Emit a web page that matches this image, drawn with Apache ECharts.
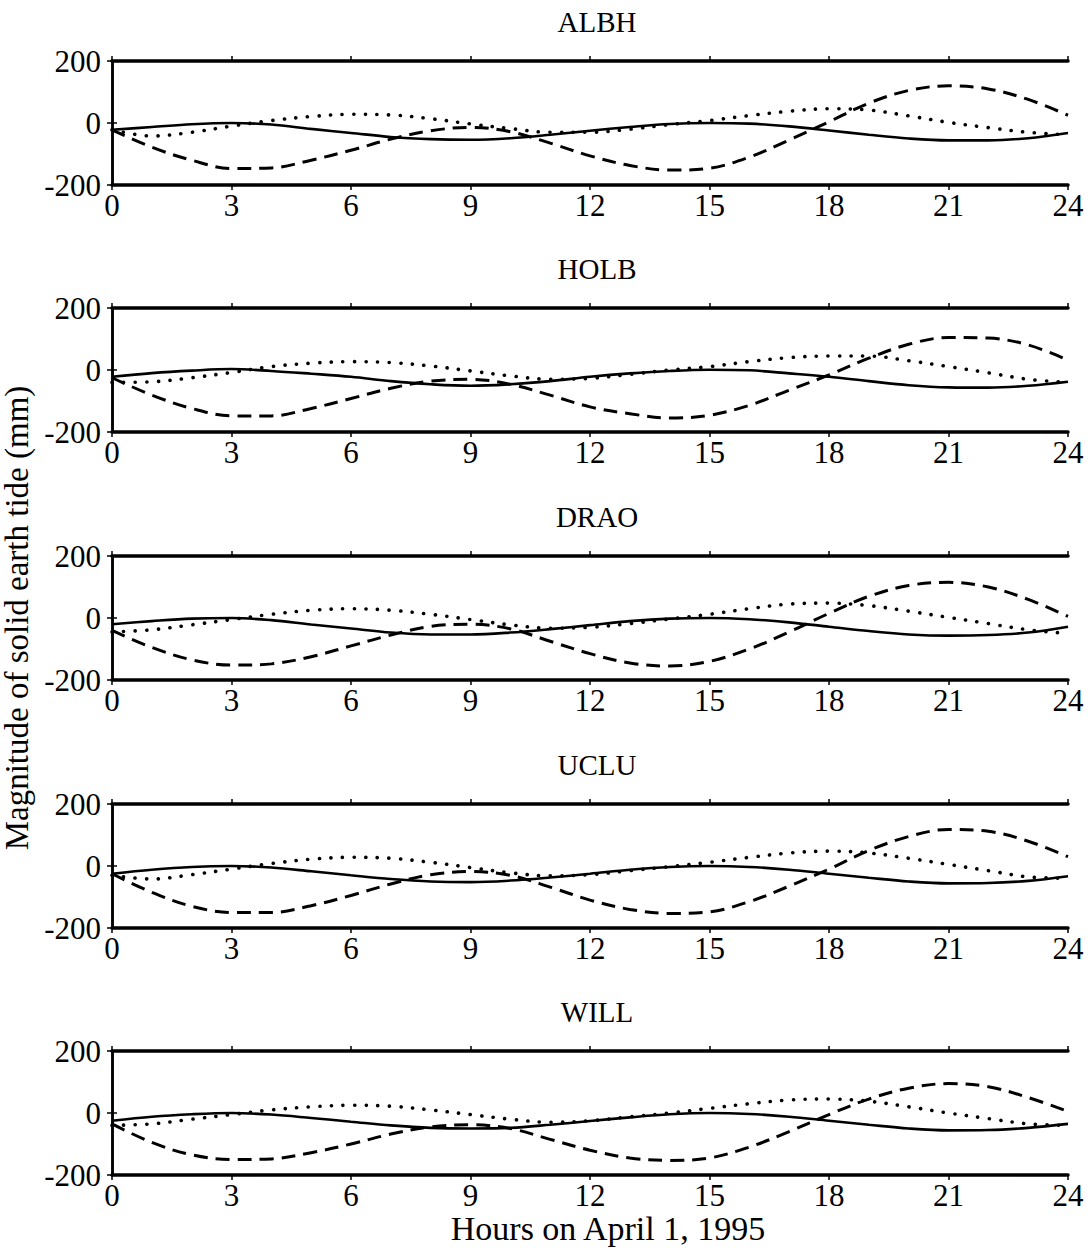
<!DOCTYPE html>
<html>
<head>
<meta charset="utf-8">
<script src="https://cdn.jsdelivr.net/npm/echarts@6/dist/echarts.min.js"></script>
<style>
html,body{margin:0;padding:0;background:#fff;}
#chart{width:1091px;height:1248px;}
</style>
</head>
<body>
<div id="chart"></div>
<script>
const hours = [0,1,2,3,4,5,6,7,8,9,10,11,12,13,14,15,16,17,18,19,20,21,22,23,24];
const xTicks = [0,3,6,9,12,15,18,21,24];
const yTicks = [-200,0,200];
const stations = ['ALBH','HOLB','DRAO','UCLU','WILL'];

const albhSolid  = [-22,-13,-4,0,-5,-19,-32,-45,-52,-54,-49,-38,-25,-13,-3,0,-2,-11,-24,-38,-50,-56,-56,-49,-32];
const albhDotted = [-22,-42,-30,-10,8,21,28,26,14,-3,-18,-30,-30,-20,-5,8,24,38,46,42,23,2,-15,-30,-38];
const albhDashed = [-22,-78,-120,-147,-145,-120,-88,-52,-25,-14,-28,-65,-106,-137,-152,-146,-110,-55,4,64,105,120,110,76,25];

const holbSolid  = [-22,-10,-2,3,-3,-12,-22,-36,-46,-51,-46,-36,-22,-11,-3,1,-1,-11,-22,-36,-49,-56,-57,-51,-38];
const holbDotted = [-40,-38,-25,-8,11,22,27,24,13,-3,-19,-30,-27,-14,0,11,27,40,45,45,30,11,-9,-30,-40];
const holbDashed = [-25,-81,-124,-148,-148,-124,-92,-59,-36,-30,-46,-81,-119,-141,-155,-146,-114,-65,-16,38,83,105,103,81,32];

const draoSolid  = [-20,-10,-2,0,-7,-21,-34,-47,-53,-53,-47,-36,-23,-10,-2,0,-4,-14,-28,-42,-53,-57,-55,-47,-28];
const draoDotted = [-45,-38,-22,-5,12,25,30,25,12,-5,-22,-33,-30,-18,-3,12,30,45,48,40,22,2,-18,-38,-50];
const draoDashed = [-40,-95,-135,-152,-148,-125,-90,-55,-27,-20,-35,-75,-115,-145,-155,-140,-100,-45,15,70,105,115,100,60,5];

const ucluSolid  = [-25,-12,-3,0,-5,-17,-30,-42,-50,-52,-47,-37,-25,-12,-3,0,-3,-12,-25,-38,-50,-56,-55,-48,-33];
const ucluDotted = [-30,-42,-28,-10,8,22,28,25,12,-5,-22,-32,-28,-15,-2,12,28,42,48,42,25,5,-15,-35,-40];
const ucluDashed = [-25,-85,-130,-150,-150,-128,-95,-58,-28,-18,-30,-68,-110,-140,-153,-148,-115,-65,-10,50,95,118,112,80,30];

const willSolid  = [-25,-12,-4,0,-5,-16,-28,-40,-48,-50,-48,-38,-26,-14,-4,0,-3,-12,-25,-38,-50,-56,-55,-48,-35];
const willDotted = [-40,-35,-20,-5,10,20,25,22,10,-5,-20,-30,-25,-12,0,15,30,42,45,38,20,0,-18,-35,-40];
const willDashed = [-35,-95,-135,-150,-148,-128,-100,-68,-45,-38,-50,-85,-120,-145,-153,-145,-110,-60,-5,45,80,95,85,50,5];

const panelData = [
  [albhSolid, albhDotted, albhDashed],
  [holbSolid, holbDotted, holbDashed],
  [draoSolid, draoDotted, draoDashed],
  [ucluSolid, ucluDotted, ucluDashed],
  [willSolid, willDotted, willDashed]
];

const FONT = 'Liberation Serif';
const gridTops = [61, 308, 556, 804, 1051];
const gridH = 124;
const plotLeft = 112, plotRight = 1068;

const grid = [], xAxis = [], yAxis = [], series = [], title = [];
const styles = [
  {type:'solid', width:2.6},
  {type:[0.1, 11.5], width:3.6, cap:'round'},
  {type:[14, 8], width:3}
];
const names = ['Solid','Dotted','Dashed'];

gridTops.forEach((top, i) => {
  grid.push({left: plotLeft, width: plotRight - plotLeft, top: top, height: gridH,
    containLabel: false, outerBoundsMode: 'none'});
  title.push({
    text: stations[i], left: (plotLeft + plotRight)/2 + 2, top: top - 59, textAlign: 'center',
    textStyle: {fontFamily: FONT, fontSize: 29, fontWeight: 'normal', color: '#000'}
  });
  const last = i === gridTops.length - 1;
  xAxis.push({
    gridIndex: i, type: 'value', min: 0, max: 24, interval: 3, position: 'bottom',
    axisLine: {show: true, onZero: false, lineStyle: {color: '#000', width: 3.5}},
    axisTick: {show: true, inside: false, length: 5, lineStyle: {color: '#000', width: 1.5}},
    axisLabel: {show: true, fontFamily: FONT, fontSize: 31, color: '#000', margin: 5,
      formatter: v => xTicks.includes(v) ? String(v) : ''},
    splitLine: {show: false},
    name: last ? 'Hours on April 1, 1995' : '',
    nameLocation: 'middle', nameGap: 29,
    nameTextStyle: {fontFamily: FONT, fontSize: 34, color: '#000', padding: [0, 0, 0, 36]}
  });
  xAxis.push({
    gridIndex: i, type: 'value', min: 0, max: 24, interval: 3, position: 'top',
    axisLine: {show: true, onZero: false, lineStyle: {color: '#000', width: 3.5}},
    axisTick: {show: true, inside: false, length: 5, lineStyle: {color: '#000', width: 1.5}},
    axisLabel: {show: false}, splitLine: {show: false}
  });
  yAxis.push({
    gridIndex: i, type: 'value', min: -200, max: 200, interval: 200, position: 'left',
    axisLine: {show: true, lineStyle: {color: '#000', width: 2.5}},
    axisTick: {show: true, inside: false, length: 5, lineStyle: {color: '#000', width: 1.5}},
    axisLabel: {show: true, fontFamily: FONT, fontSize: 31, color: '#000', margin: 11,
      formatter: v => yTicks.includes(v) ? String(v) : ''},
    splitLine: {show: false},
    name: i === 2 ? 'Magnitude of solid earth tide (mm)' : '',
    nameLocation: 'middle', nameRotate: 90, nameGap: 78,
    nameTextStyle: {fontFamily: FONT, fontSize: 33, lineHeight: 28, color: '#000'}
  });
  yAxis.push({
    gridIndex: i, type: 'value', min: -200, max: 200, interval: 200, position: 'right',
    axisLine: {show: true, lineStyle: {color: '#000', width: 2.5}},
    axisTick: {show: true, inside: false, length: 5, lineStyle: {color: '#000', width: 1.5}},
    axisLabel: {show: false}, splitLine: {show: false}
  });
  panelData[i].forEach((arr, k) => {
    series.push({
      name: stations[i] + ' ' + names[k],
      type: 'line', xAxisIndex: 2*i, yAxisIndex: 2*i,
      data: hours.map((h, j) => [h, arr[j]]),
      symbol: 'none', smooth: 0.35, silent: true,
      lineStyle: Object.assign({color: '#000'}, styles[k]),
      z: 3 - k
    });
  });
});

const chart = echarts.init(document.getElementById('chart'), null, {renderer: 'svg'});
chart.setOption({
  backgroundColor: '#fff',
  animation: false,
  title, grid, xAxis, yAxis, series
});
</script>
</body>
</html>
